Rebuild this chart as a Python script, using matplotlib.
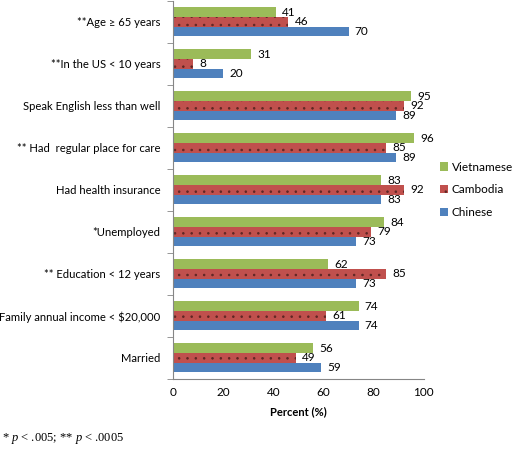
import matplotlib.pyplot as plt
import numpy as np

plt.rcParams["font.family"] = ["Lato", "DejaVu Sans"]
plt.rcParams["mathtext.fontset"] = "custom"
plt.rcParams["mathtext.it"] = "Liberation Serif:italic"
plt.rcParams["mathtext.rm"] = "Liberation Serif"
plt.rcParams["hatch.linewidth"] = 0.6

categories = [
    "**Age \u2265 65 years",
    "**In the US < 10 years",
    "Speak English less than well",
    "** Had  regular place for care",
    "Had health insurance",
    "*Unemployed",
    "** Education < 12 years",
    "Family annual income < $20,000",
    "Married",
]
vietnamese = [41, 31, 95, 96, 83, 84, 62, 74, 56]
cambodia = [46, 8, 92, 85, 92, 79, 85, 61, 49]
chinese = [70, 20, 89, 89, 83, 73, 73, 74, 59]

series = [
    ("Vietnamese", vietnamese, "#9bbb59"),
    ("Cambodia", cambodia, "#c0504d"),
    ("Chinese", chinese, "#4f81bd"),
]

fig = plt.figure(figsize=(5.18, 4.5), dpi=100)
ax = fig.add_axes([0.334, 0.158, 0.484, 0.84])

y = np.arange(len(categories))
h = 0.23
for i, (name, vals, col) in enumerate(series):
    pos = y + (i - 1) * h
    if name == "Cambodia":
        ax.barh(pos, vals, height=h, color=col, label=name,
                hatch="..", edgecolor="#5e2624", linewidth=0)
    else:
        ax.barh(pos, vals, height=h, color=col, label=name, linewidth=0)
    for p, v in zip(pos, vals):
        ax.text(v + 2.5, p, str(v), va="center", ha="left", fontsize=8.5)

ax.set_ylim(len(categories) - 0.5, -0.5)
ax.set_xlim(0, 100)
ax.set_yticks(y)
ax.set_yticklabels(categories, fontsize=8.1)
ax.set_yticks(np.arange(len(categories) + 1) - 0.5, minor=True)
ax.tick_params(axis="y", which="major", length=0, pad=9)
ax.tick_params(axis="y", which="minor", length=4, color="#868686")
ax.set_xticks([0, 20, 40, 60, 80, 100])
ax.tick_params(axis="x", length=0, labelsize=8.5, pad=6)
ax.set_xlabel("Percent (%)", fontsize=8, fontweight="bold", labelpad=6)

for s in ["top", "right"]:
    ax.spines[s].set_visible(False)
for s in ["left", "bottom"]:
    ax.spines[s].set_color("#868686")

ax.legend(loc="center left", bbox_to_anchor=(1.045, 0.5), frameon=False,
          borderaxespad=0, fontsize=8.5, handlelength=0.7, handleheight=0.7,
          handletextpad=0.3, labelspacing=1.0)

fig.text(0.003, 0.02, "* $\\it{p}$ < .005; ** $\\it{p}$ < .0005",
         fontsize=9, family="Liberation Serif")

fig.savefig("out.png", dpi=100)
